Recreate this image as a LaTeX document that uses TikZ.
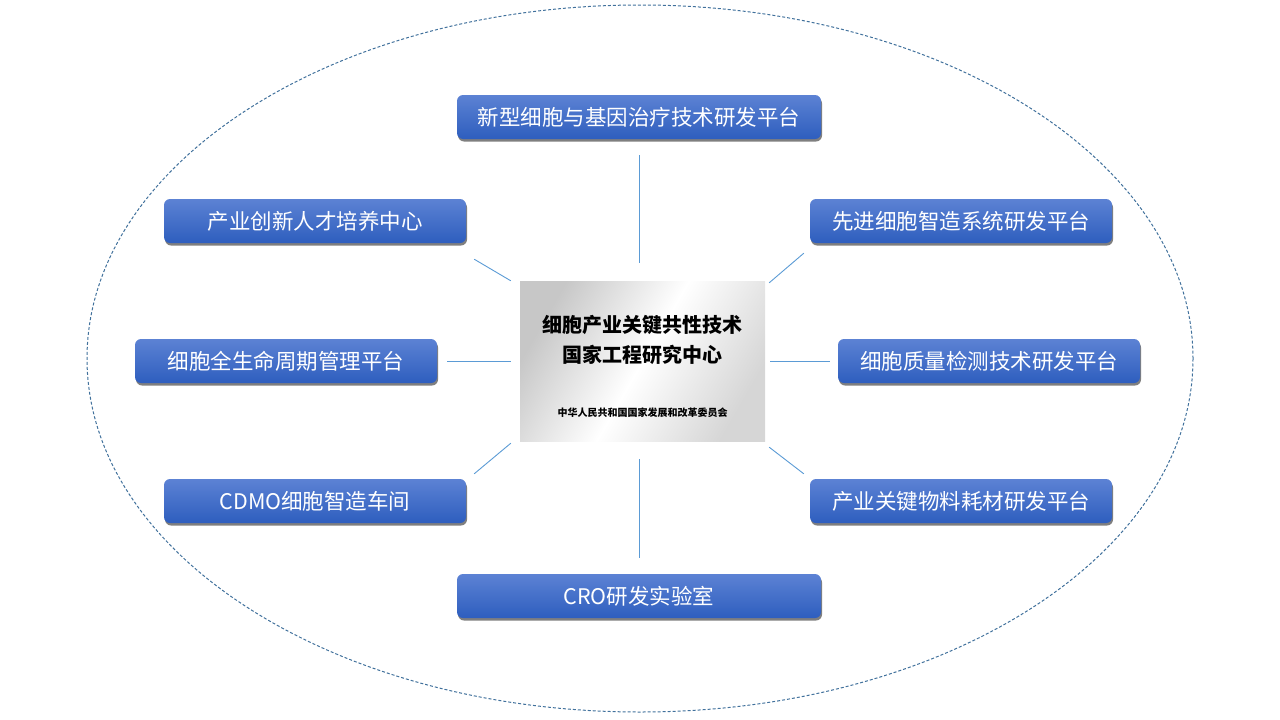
\documentclass[tikz,border=0pt]{standalone}
\usepackage{fontspec}
\usepackage{tikz}
\usetikzlibrary{shadows,calc}
\newfontfamily\cjk{Noto Sans CJK SC}
\definecolor{boxtop}{RGB}{92,130,212}
\definecolor{boxbottom}{RGB}{46,94,190}
\definecolor{linkblue}{RGB}{91,155,213}
\definecolor{rimblue}{RGB}{65,113,156}

\begin{document}
\begin{tikzpicture}[x=1pt, y=-1pt,
  platform/.style={rectangle, rounded corners=6pt,
    top color=boxtop, bottom color=boxbottom, draw=none,
    minimum height=44pt, text=white,
    font=\cjk\fontsize{21.5}{24}\selectfont,
    drop shadow={shadow xshift=1pt, shadow yshift=-2.5pt,
      opacity=0.5, fill=black}},
  link/.style={draw=linkblue, line width=0.9pt},
  rim/.style={draw=rimblue, line width=1pt,
    dash pattern=on 3pt off 2pt}
]
\useasboundingbox (0,0) rectangle (1280,720);

% outer dashed ellipse
\draw[rim] (640,358.5) ellipse [x radius=553, y radius=353.5];

% centre plate
\shade[left color=black!22, right color=black!16, middle color=white,
  shading angle=60] (520,281) rectangle (765,441);
\node[inner sep=0pt, minimum width=245pt, minimum height=160pt]
  (P) at (642.5,361) {};
\node[font=\cjk\bfseries\fontsize{20}{30}\selectfont, align=center]
  (Ptitle) at (642.5,340) {细胞产业关键共性技术\\国家工程研究中心};
\node[font=\cjk\bfseries\fontsize{10}{12}\selectfont]
  (Psub) at (642.5,413) {中华人民共和国国家发展和改革委员会};

% platforms
\node[platform, minimum width=364pt] (T)  at (639,117)
  {新型细胞与基因治疗技术研发平台};
\node[platform, minimum width=302pt] (L1) at (315,221)
  {产业创新人才培养中心};
\node[platform, minimum width=302pt] (R1) at (961,221)
  {先进细胞智造系统研发平台};
\node[platform, minimum width=302pt] (L2) at (286,361)
  {细胞全生命周期管理平台};
\node[platform, minimum width=302pt] (R2) at (989,361)
  {细胞质量检测技术研发平台};
\node[platform, minimum width=302pt] (L3) at (315,501)
  {CDMO细胞智造车间};
\node[platform, minimum width=302pt] (R3) at (961,501)
  {产业关键物料耗材研发平台};
\node[platform, minimum width=364pt] (B)  at (639,596)
  {CRO研发实验室};

% links
\draw[link, shorten <=16pt, shorten >=18pt] (T.south) -- (T.south |- P.north);
\draw[link, shorten <=16pt, shorten >=18pt] (B.north) -- (B.north |- P.south);
\draw[link, shorten <=10pt, shorten >=9pt] (L2.east) -- (P.west);
\draw[link, shorten <=5pt, shorten >=8pt] (P.east) -- (R2.west);
\draw[link] ([shift={(-9,0)}]P.north west) -- ([shift={(8,16)}]L1.south east);
\draw[link] ([shift={(4,2)}]P.north east) -- ([shift={(-6,10)}]R1.south west);
\draw[link] ([shift={(-9,2)}]P.south west) -- ([shift={(8,-5)}]L3.north east);
\draw[link] ([shift={(4,6)}]P.south east) -- ([shift={(-6,-5)}]R3.north west);
\end{tikzpicture}
\end{document}
